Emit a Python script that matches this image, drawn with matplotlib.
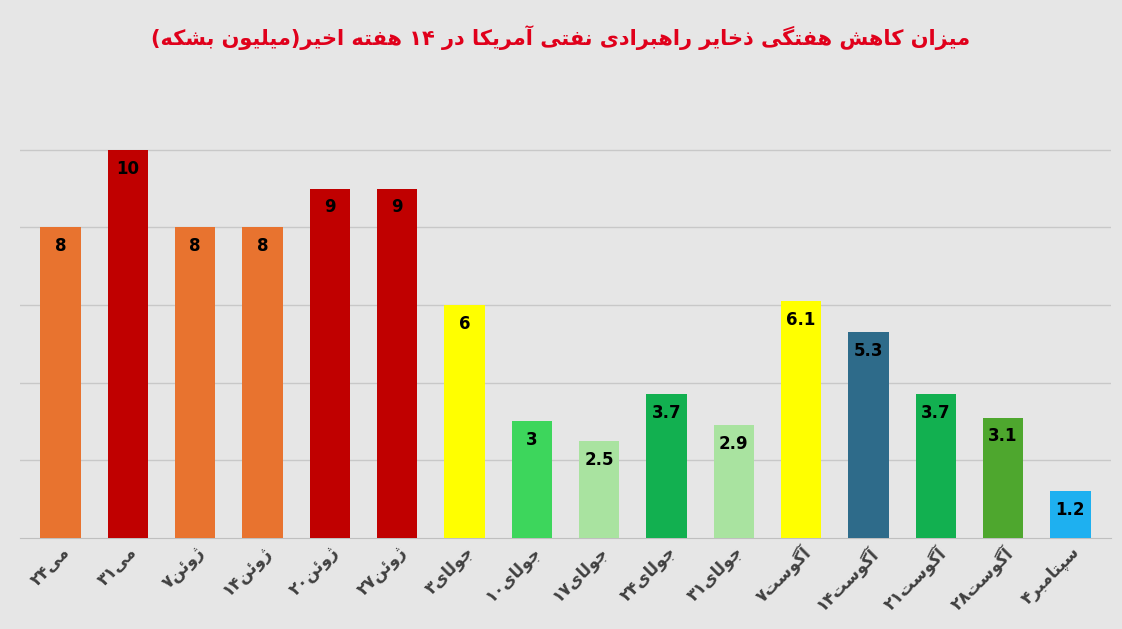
import unicodedata
import matplotlib
matplotlib.use("Agg")
import matplotlib.pyplot as plt

labels = ["۲۴می", "۳۱می", "۷ژوئن", "۱۴ژوئن", "۲۰ژوئن", "۲۷ژوئن", "۳جولای", "۱۰جولای",
          "۱۷جولای", "۲۴جولای", "۳۱جولای", "۷آگوست", "۱۴آگوست", "۲۱آگوست", "۲۸آگوست", "۴سپتامبر"]
values = [8, 10, 8, 8, 9, 9, 6, 3, 2.5, 3.7, 2.9, 6.1, 5.3, 3.7, 3.1, 1.2]
colors = ["#E8732F", "#C00000", "#E8732F", "#E8732F", "#C00000", "#C00000", "#FFFF00", "#3DD65C",
          "#A9E3A0", "#12B050", "#A9E3A0", "#FFFF00", "#2E6B8A", "#12B050", "#4EA72E", "#1EB0F0"]
title = "میزان کاهش هفتگی ذخایر راهبرادی نفتی آمریکا در ۱۴ هفته اخیر(میلیون بشکه)"


def form(ch, suffix):
    try:
        return unicodedata.lookup(unicodedata.name(ch) + " " + suffix)
    except (KeyError, ValueError):
        return None


def shape(s):
    out = []
    n = len(s)
    for i, ch in enumerate(s):
        if form(ch, "ISOLATED FORM") is None:
            out.append(ch)
            continue
        prev = s[i - 1] if i > 0 else None
        nxt = s[i + 1] if i < n - 1 else None
        jp = prev is not None and form(prev, "INITIAL FORM") is not None and form(ch, "FINAL FORM") is not None
        jn = nxt is not None and form(ch, "INITIAL FORM") is not None and form(nxt, "FINAL FORM") is not None
        if jp and jn:
            f = form(ch, "MEDIAL FORM")
        elif jp:
            f = form(ch, "FINAL FORM")
        elif jn:
            f = form(ch, "INITIAL FORM")
        else:
            f = form(ch, "ISOLATED FORM")
        out.append(f or ch)
    return "".join(out)


def visual(s, keep_run_order=False):
    s = shape(s)
    runs, cur, isdig = [], "", None
    for ch in s:
        d = ch.isdigit()
        if isdig is None or d == isdig:
            cur += ch
        else:
            runs.append((cur, isdig)); cur = ch
        isdig = d
    runs.append((cur, isdig))
    res = []
    seq = runs if keep_run_order else list(reversed(runs))
    for r, d in seq:
        if d:
            res.append(r)
        else:
            res.append(r[::-1].translate(str.maketrans("()", ")(")))
    return "".join(res)


plt.rcParams['font.family'] = ['DejaVu Sans']
fig = plt.figure(figsize=(11.22, 6.29), dpi=100, facecolor="#E6E6E6")
ax = fig.add_axes([0.018, 0.145, 0.972, 0.74])
ax.set_facecolor("#E6E6E6")
x = list(range(len(values)))
ax.bar(x, values, width=0.6, color=colors, zorder=3)
for xi, v in zip(x, values):
    ax.text(xi, v - 0.25, f"{v:g}", ha="center", va="top", fontsize=12, fontweight="bold", zorder=4)
ax.set_ylim(0, 12)
ax.set_xlim(-0.6, len(values) - 0.4)
ax.set_yticks([2, 4, 6, 8, 10])
ax.yaxis.grid(True, color="#C8C8C8", lw=1, zorder=0)
ax.tick_params(axis="y", left=False, labelleft=False)
ax.tick_params(axis="x", length=0)
ax.set_xticks(x)
ax.set_xticklabels([visual(l, keep_run_order=True) for l in labels], rotation=45, ha="right",
                   rotation_mode="anchor", fontsize=12, fontweight="bold", color="#404040")
for sp in ["top", "right", "left"]:
    ax.spines[sp].set_visible(False)
ax.spines["bottom"].set_color("#BFBFBF")
fig.text(0.5, 0.94, visual(title), ha="center", va="center", fontsize=15, fontweight="bold", color="#E0001B")
fig.savefig("out.png", dpi=100, facecolor=fig.get_facecolor())
